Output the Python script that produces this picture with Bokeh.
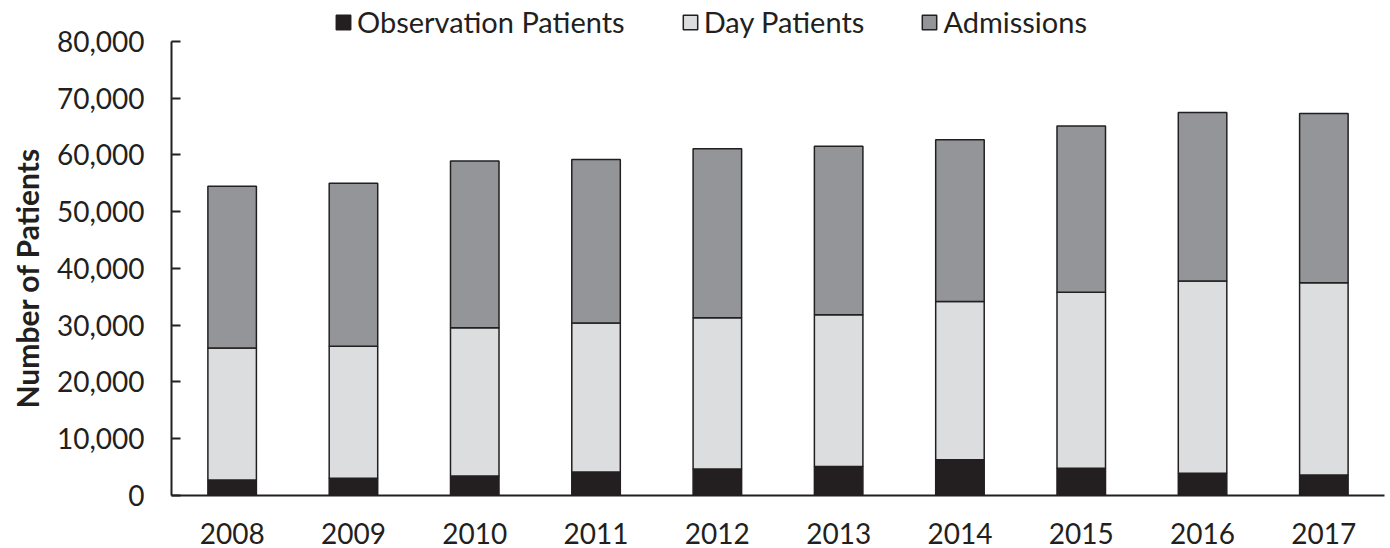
from bokeh.plotting import figure
from bokeh.models import ColumnDataSource, NumeralTickFormatter, Legend, FixedTicker, Range1d, Title
from bokeh.embed import file_html
from bokeh.resources import INLINE

years = ["2008", "2009", "2010", "2011", "2012", "2013", "2014", "2015", "2016", "2017"]
observation = [2750, 3050, 3450, 4150, 4650, 5100, 6300, 4800, 3900, 3600]
day_patients = [23250, 23250, 26100, 26250, 26650, 26750, 27900, 31000, 33900, 33900]
admissions = [28500, 28700, 29400, 28800, 29800, 29700, 28500, 29300, 29700, 29800]
y_ticks = [0, 10000, 20000, 30000, 40000, 50000, 60000, 70000, 80000]

series = ["Observation Patients", "Day Patients", "Admissions"]
colors = ["#231f20", "#dcdddf", "#939598"]

source = ColumnDataSource(data={
    "year": years,
    "Observation Patients": observation,
    "Day Patients": day_patients,
    "Admissions": admissions,
})

# frame extends above the 80,000 tick to leave room for the legend
p = figure(x_range=years, y_range=Range1d(0, 86872), width=1388, height=548,
           output_backend="svg", toolbar_location=None,
           min_border_left=171, min_border_right=4, min_border_top=2, min_border_bottom=53)

renderers = p.vbar_stack(series, x="year", width=0.4, source=source,
                         fill_color=colors, line_color="#231f20", line_width=1.5)

p.outline_line_color = None
p.xgrid.grid_line_color = None
p.ygrid.grid_line_color = None

p.yaxis.bounds = (0, 80000)
p.yaxis.ticker = FixedTicker(ticks=y_ticks)
p.yaxis.formatter = NumeralTickFormatter(format="0,0")
p.yaxis.major_tick_in = 9
p.yaxis.major_tick_out = 0
p.yaxis.minor_tick_line_color = None
p.yaxis.axis_line_width = 2
p.yaxis.major_tick_line_width = 2
p.yaxis.axis_line_color = "#231f20"
p.yaxis.major_tick_line_color = "#231f20"
p.yaxis.major_label_standoff = 27

p.xaxis.major_tick_line_color = None
p.xaxis.minor_tick_line_color = None
p.xaxis.axis_line_width = 2
p.xaxis.axis_line_color = "#231f20"
p.xaxis.major_label_standoff = 21

for ax in (p.xaxis, p.yaxis):
    ax.major_label_text_font = "Lato"
    ax.major_label_text_font_size = "28px"
    ax.major_label_text_color = "#231f20"

ylabel = Title(text="Number of Patients", align="left", offset=87,
               vertical_align="top",
               text_font="Lato", text_font_style="bold", text_font_size="30px",
               text_color="#231f20", standoff=14)
p.add_layout(ylabel, "left")

legend = Legend(items=[(s, [r]) for s, r in zip(series, renderers)],
                orientation="horizontal", location=(163, 456),
                label_text_font="Lato", label_text_font_size="29px",
                label_text_color="#231f20",
                glyph_width=18, glyph_height=18, label_standoff=5,
                spacing=56, padding=0, margin=0,
                background_fill_alpha=0, border_line_color=None)
p.add_layout(legend, "center")

open("out.html", "w").write(file_html(p, INLINE))
